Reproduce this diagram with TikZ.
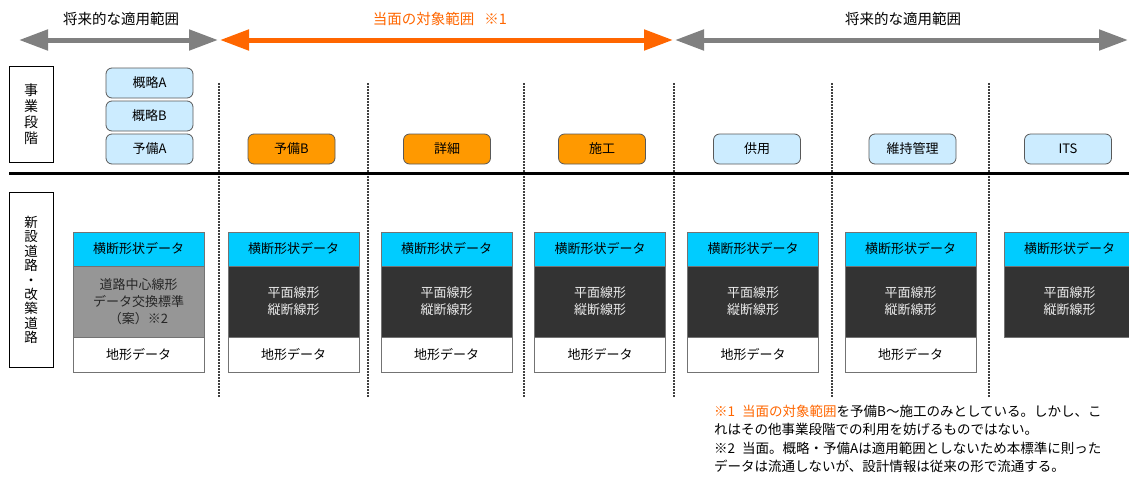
\documentclass[tikz,border=0pt]{standalone}
\usepackage{fontspec}
\setmainfont{Noto Sans CJK JP}
\usepackage{tikz}
\usetikzlibrary{positioning,arrows.meta}
\definecolor{stageblue}{HTML}{CCECFF}
\definecolor{stageorange}{HTML}{FF9900}
\definecolor{hdrcyan}{HTML}{00CCFF}
\definecolor{darkfill}{HTML}{333333}
\definecolor{midgray}{HTML}{969696}
\definecolor{arrowgray}{HTML}{808080}
\definecolor{arroworange}{HTML}{FF6600}
\newcommand{\fsz}[1]{\fontsize{#1}{#1}\selectfont}

\begin{document}
\begin{tikzpicture}[x=1pt,y=-1pt,
		stage/.style={draw=black!65,line width=0.8pt,rounded corners=6pt,minimum width=87pt,minimum height=30pt,inner sep=0pt,outer sep=0pt,font=\fsz{13}},
		stageb/.style={stage,fill=stageblue},
		stageo/.style={stage,fill=stageorange},
		databox/.style={draw=black!55,line width=0.8pt,minimum width=131pt,inner sep=0pt,outer sep=0pt,align=center,font=\fontsize{13}{17}\selectfont},
		hdrbox/.style={databox,fill=hdrcyan,minimum height=34pt},
		linbox/.style={databox,fill=darkfill,text=white!92!black,minimum height=71pt},
		terrbox/.style={databox,fill=white,minimum height=35pt},
		sidebox/.style={draw=black,line width=0.8pt,minimum width=44pt,inner sep=0pt,align=center},
		rangearrow/.style={line width=5pt,arrows={Triangle[length=29pt,width=20pt]-Triangle[length=29pt,width=20pt]}},
		colsep/.style={black!75,line width=1.2pt,dash pattern=on 1.5pt off 1.5pt}
	]
	\useasboundingbox (0,0) rectangle (1129,477);
	
	\coordinate (fl) at (19,40);
	\coordinate (fr) at (218,40);
	\coordinate (ol) at (220,40);
	\coordinate (or) at (673,40);
	\coordinate (gl) at (675,40);
	\coordinate (gr) at (1128,40);
	\draw[rangearrow,arrowgray] (fl) -- (fr);
	\draw[rangearrow,arroworange] (ol) -- (or);
	\draw[rangearrow,arrowgray] (gl) -- (gr);
	\node[font=\fsz{14.5}] (futL) at (121,19) {将来的な適用範囲};
	\node[font=\fsz{14.5},text=arroworange] (now) at (440,19) {当面の対象範囲\hspace{10pt}※1};
	\node[font=\fsz{14.5}] (futR) at (903,19) {将来的な適用範囲};
	
	\foreach \x in {219,368,524,674,832,989}
		\draw[colsep] (\x,83) -- (\x,397);
	\coordinate (barL) at (9,173);
	\coordinate (barR) at (1129,173);
	\draw[line width=3pt] (barL) -- (barR);
	
	\node[sidebox,minimum height=96pt,font=\fontsize{14}{16}\selectfont] (jigyo) at (31,114) {事\\業\\段\\階};
	\node[sidebox,minimum height=175pt,font=\fontsize{13.5}{14.4}\selectfont] (douro) at (31,280) {新\\設\\道\\路\\・\\改\\築\\道\\路};
	
	\node[stageb] (gaiA) at (149.5,83) {概略A};
	\node[stageb,below=3pt of gaiA] (gaiB) {概略B};
	\node[stageb,below=3pt of gaiB] (yobiA) {予備A};
	\node[stageo] (yobiB) at (291.5,149) {予備B};
	\node[stageo] (shosai) at (447,149) {詳細};
	\node[stageo] (seko) at (602,149) {施工};
	\node[stageb] (kyoyo) at (757,149) {供用};
	\node[stageb] (iji) at (912.5,149) {維持管理};
	\node[stageb] (its) at (1068,149) {ITS};
	
	\node[hdrbox] (hd1) at (138.5,249) {横断形状データ};
	\node[linbox,fill=midgray,text=black!85] (ln1) [below=0pt of hd1] {道路中心線形\\データ交換標準\\（案）※2};
	\node[terrbox] (tp1) [below=0pt of ln1] {地形データ};
	\foreach \i/\x in {2/293.5,3/446.5,4/600,5/753,6/910.5,7/1069.5}{
		\node[hdrbox] (hd\i) at (\x,249) {横断形状データ};
		\node[linbox] (ln\i) [below=0pt of hd\i] {平面線形\\縦断線形};
	}
	\foreach \i in {2,...,6}
		\node[terrbox] (tp\i) [below=0pt of ln\i] {地形データ};
	
	\node[anchor=north west,align=left,inner sep=0pt,font=\fontsize{13.5}{18.3}\selectfont] (notes) at (714,405) {\textcolor{arroworange}{※1\hspace{7pt}当面の対象範囲}を予備B～施工のみとしている。しかし、こ\\れはその他事業段階での利用を妨げるものではない。\\※2\hspace{7pt}当面。概略・予備Aは適用範囲としないため本標準に則った\\データは流通しないが、設計情報は従来の形で流通する。};
\end{tikzpicture}
\end{document}
